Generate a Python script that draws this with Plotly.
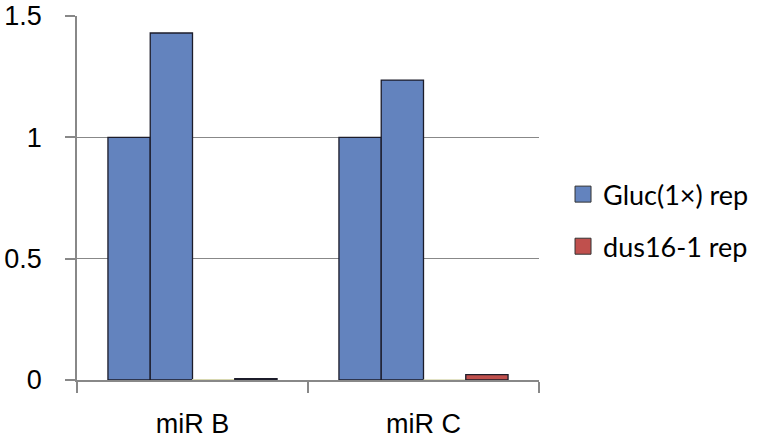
import plotly.graph_objects as go

categories = ["miR B", "miR C"]
gluc_a = [1.0, 1.0]
gluc_b = [1.43, 1.236]
dus_a = [0.002, 0.0]
dus_b = [0.006, 0.022]
legend_names = ["Gluc(1×) rep", "dus16-1 rep"]
y_ticks = [0, 0.5, 1, 1.5]
y_tick_text = ["0", "0.5", "1", "1.5"]

blue = "#6383BE"
red = "#C0504D"
edge = "#1C1C2A"

fig = go.Figure()
fig.add_trace(go.Bar(x=categories, y=gluc_a, name=legend_names[0], marker=dict(color=blue, line=dict(color=edge, width=1.3)),
                     showlegend=False))
fig.add_trace(go.Bar(x=categories, y=gluc_b, name=legend_names[0], marker=dict(color=blue, line=dict(color=edge, width=1.3)),
                     showlegend=False))
fig.add_trace(go.Bar(x=categories, y=dus_a, name=legend_names[1], marker=dict(color=red, line=dict(color="#D8D8B0", width=1)),
                     showlegend=False))
fig.add_trace(go.Bar(x=categories, y=dus_b, name=legend_names[1], marker=dict(color=red, line=dict(color=edge, width=1.3)),
                     showlegend=False))
# legend keys
for nm, col, grp in [(legend_names[0], blue, "g"), (legend_names[1], red, "d")]:
    fig.add_trace(go.Scatter(x=[None], y=[None], mode="markers", name=nm, legendgroup=grp,
                             marker=dict(symbol="square", size=18, color=col, line=dict(color="#333333", width=1))))

fig.update_layout(
    width=758, height=441,
    margin=dict(l=77, r=219, t=16, b=61, autoexpand=False),
    paper_bgcolor="white", plot_bgcolor="white",
    barmode="group", bargap=0.268, bargroupgap=0,
    font=dict(family="Liberation Sans, Arial, sans-serif", color="black"),
    legend=dict(x=1.052, y=0.438, xanchor="left", yanchor="middle",
                font=dict(family="Lato, Open Sans, sans-serif", size=27, color="black"),
                tracegroupgap=14, itemwidth=30),
    showlegend=True,
)
fig.update_xaxes(showline=True, linecolor="#888888", linewidth=1.5, automargin=False,
                 ticks="outside", tickson="boundaries", ticklen=11, tickcolor="#888888", tickwidth=1.5,
                 ticklabelstandoff=19,
                 tickfont=dict(family="Liberation Sans, Arial, sans-serif", size=27), showgrid=False)
fig.update_yaxes(range=[0, 1.5], tickvals=y_ticks, ticktext=y_tick_text, automargin=False,
                 showline=True, linecolor="#888888", linewidth=1.5,
                 ticks="outside", ticklen=10, tickcolor="#888888", tickwidth=1.5,
                 ticklabelstandoff=18, ticklabeloverflow="allow",
                 showgrid=True, gridcolor="#888888", gridwidth=1.2,
                 tickfont=dict(family="Liberation Sans, Arial, sans-serif", size=27), zeroline=False)

fig.write_html("out.html", config={"displayModeBar": False},
               post_script="document.body.style.margin='0';")
